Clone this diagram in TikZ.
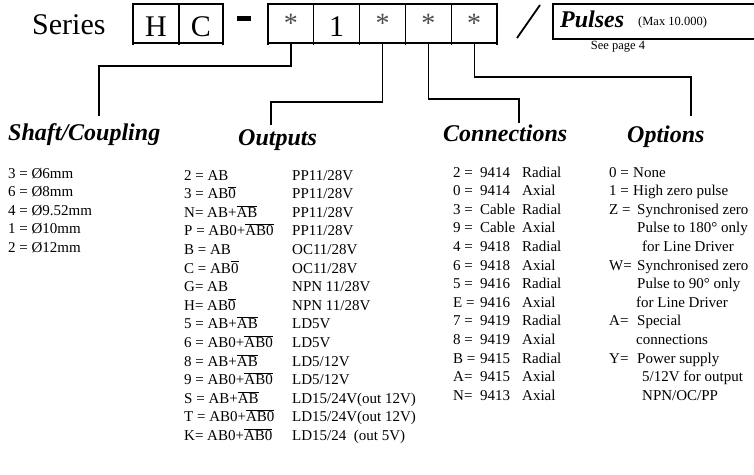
\documentclass[tikz,border=0pt]{standalone}
\usepackage{fontspec}
\setmainfont{Liberation Serif}
\newcommand\ovl[1]{$\overline{\hbox{#1}}$}
\begin{document}
\begin{tikzpicture}[x=1pt,y=-1pt]
\tikzset{
 cell/.style={draw, line width=1.2pt, minimum height=39pt, inner sep=0pt, outer sep=0pt},
 big/.style={font=\fontsize{30}{30}\selectfont, inner sep=0pt, anchor=base},
 starmark/.style={font=\fontsize{28}{28}\selectfont, text=black!70, inner sep=0pt, anchor=base},
 head/.style={font=\fontsize{24}{24}\selectfont\bfseries\itshape, inner sep=0pt, anchor=base west},
 list/.style={font=\fontsize{15}{18.6}\selectfont, inner sep=0pt, anchor=base west},
 small/.style={font=\fontsize{12.5}{13}\selectfont, inner sep=0pt},
 wire/.style={line width=1.2pt},
}
\useasboundingbox (0,0) rectangle (754,474);
\clip (0,0) rectangle (754,474);
% top row
\node[big, anchor=base west] (series) at (32,34) {Series};
\node[cell, minimum width=46pt] (bh) at (156,23.5) {};
\node[cell, minimum width=44pt] (bc) at (201,23.5) {};
\node[big] (th) at (bh.center |- 0,36) {H};
\node[big] (tc) at (bc.center |- 0,36) {C};
\fill (237,16) rectangle (251,21);
\node[cell, minimum width=45.8pt] (s1) at (290.9,23.5) {};
\node[cell, minimum width=45.8pt] (s2) at (336.7,23.5) {};
\node[cell, minimum width=45.8pt] (s3) at (382.5,23.5) {};
\node[cell, minimum width=45.8pt] (s4) at (428.3,23.5) {};
\node[cell, minimum width=45.8pt] (s5) at (474.1,23.5) {};
\node[starmark] (t1) at (s1.center |- 0,32) {*};
\node[big] (t2) at (s2.center |- 0,36) {1};
\node[starmark] (t3) at (s3.center |- 0,32) {*};
\node[starmark] (t4) at (s4.center |- 0,32) {*};
\node[starmark] (t5) at (s5.center |- 0,32) {*};
% small ticks below the cell borders
\foreach \n in {bh,bc,s1,s2,s3,s4,s5}{
  \draw[wire] (\n.south west) -- ++(0,2);
  \draw[wire] (\n.south east) -- ++(0,2);
}
\draw[line width=1.8pt] (517,38) -- (540,5);
\draw[wire] (553,4) rectangle (770,39);
\node[head] (pulses) at (560,27) {Pulses};
\node[small, anchor=base west] (max) at (638,25) {(Max 10.000)};
\node[small, anchor=base] (see) at (618,49) {See page 4};
% connectors
\coordinate (e1) at (99,116);
\coordinate (e3) at (271,125);
\coordinate (e4) at (519,123);
\coordinate (e5) at (691,116);
\draw[wire] (s1.south) -- ++(0,23) -| (e1);
\draw[wire] (s3.south) -- ++(0,59) -| (e3);
\draw[wire] (s4.south) -- ++(0,56) -| (e4);
\draw[wire] (s5.south) -- ++(0,34) -| (e5);
% headings
\node[head] (hshaft) at (8,140) {Shaft/Coupling};
\node[head] (hout) at (238,145) {Outputs};
\node[head] (hconn) at (443,141) {Connections};
\node[head] (hopt) at (627,142) {Options};
% lists
\node[list] (shaft) at (8,178) {\begin{tabular}[t]{@{}l@{}}
3 = Ø6mm\\
6 = Ø8mm\\
4 = Ø9.52mm\\
1 = Ø10mm\\
2 = Ø12mm
\end{tabular}};
\node[list] (outs) at (184,180) {\begin{tabular}[t]{@{}p{108pt}@{}l@{}}
2 = AB & PP11/28V\\
3 = AB\ovl{0} & PP11/28V\\
N= AB+\ovl{AB} & PP11/28V\\
P = AB0+\ovl{AB0} & PP11/28V\\
B = AB & OC11/28V\\
C = AB\ovl{0} & OC11/28V\\
G= AB & NPN 11/28V\\
H= AB\ovl{0} & NPN 11/28V\\
5 = AB+\ovl{AB} & LD5V\\
6 = AB0+\ovl{AB0} & LD5V\\
8 = AB+\ovl{AB} & LD5/12V\\
9 = AB0+\ovl{AB0} & LD5/12V\\
S = AB+\ovl{AB} & LD15/24V(out 12V)\\
T = AB0+\ovl{AB0} & LD15/24V(out 12V)\\
K= AB0+\ovl{AB0} & LD15/24\ \ (out 5V)
\end{tabular}};
\node[list] (conns) at (453,177) {\begin{tabular}[t]{@{}p{27pt}@{}p{42pt}@{}l@{}}
2 = & 9414 & Radial\\
0 = & 9414 & Axial\\
3 = & Cable & Radial\\
9 = & Cable & Axial\\
4 = & 9418 & Radial\\
6 = & 9418 & Axial\\
5 = & 9416 & Radial\\
E = & 9416 & Axial\\
7 = & 9419 & Radial\\
8 = & 9419 & Axial\\
B = & 9415 & Radial\\
A= & 9415 & Axial\\
N= & 9413 & Axial
\end{tabular}};
\node[list] (opts) at (609,177) {\begin{tabular}[t]{@{}l@{}}
\makebox[24pt][l]{0 =}None\\
\makebox[24pt][l]{1 =}High zero pulse\\
\makebox[28pt][l]{Z =}Synchronised zero\\
\hspace*{28pt}Pulse to 180° only\\
\hspace*{33pt}for Line Driver\\
\makebox[28pt][l]{W=}Synchronised zero\\
\hspace*{28pt}Pulse to 90° only\\
\hspace*{27pt}for Line Driver\\
\makebox[28pt][l]{A=}Special\\
\hspace*{27pt}connections\\
\makebox[28pt][l]{Y=}Power supply\\
\hspace*{33pt}5/12V for output\\
\hspace*{33pt}NPN/OC/PP
\end{tabular}};
\end{tikzpicture}
\end{document}
